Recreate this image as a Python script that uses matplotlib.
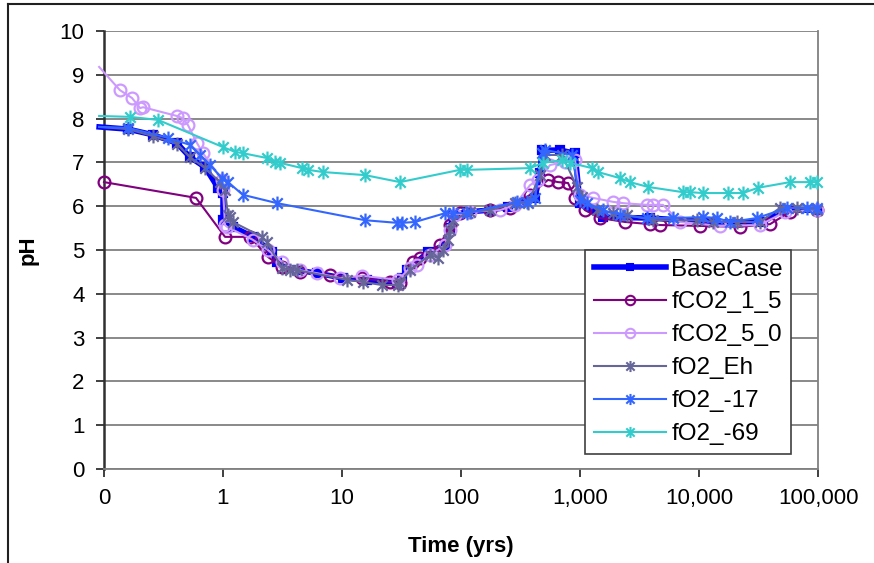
import matplotlib
matplotlib.use("Agg")
import matplotlib.pyplot as plt
from matplotlib.path import Path
from matplotlib.lines import Line2D

plt.rcParams['font.family'] = ['Liberation Sans', 'DejaVu Sans']

# time in years, pH values
base_t = [0.091, 0.159, 0.258, 0.41, 0.528, 0.706, 0.908, 1.0, 1.0, 1.21, 1.79, 2.58, 2.84,
          4.19, 6.17, 10.2, 16.2, 29.0, 31.9, 35.2, 52.8, 73.4, 80.9, 85.7, 112, 175, 248,
          419, 461, 480, 679, 908, 1000, 1560, 3870, 12400, 34500, 50800, 98100]
base_ph = [7.81, 7.76, 7.63, 7.44, 7.12, 6.89, 6.42, 6.30, 5.68, 5.53, 5.30, 4.95, 4.73,
           4.54, 4.47, 4.36, 4.32, 4.25, 4.36, 4.54, 4.95, 5.11, 5.50, 5.80, 5.87, 5.91, 5.98,
           6.19, 6.76, 7.28, 7.28, 7.21, 6.07, 5.75, 5.73, 5.64, 5.64, 5.91, 5.91]

co2_15_t = [0.1, 0.593, 1.04, 1.69, 2.39, 3.13, 4.44, 7.93, 14.7, 25.3, 30.7, 39.5, 45.2,
            66.6, 80.9, 98.1, 175, 258, 380, 538, 653, 793, 908, 1100, 1470, 2390, 3870,
            4700, 10200, 22100, 39500, 58200, 98100]
co2_15_ph = [6.55, 6.19, 5.30, 5.30, 4.84, 4.61, 4.50, 4.43, 4.36, 4.27, 4.25, 4.73, 4.82,
             5.11, 5.57, 5.84, 5.91, 5.96, 6.26, 6.60, 6.55, 6.53, 6.19, 5.91, 5.73, 5.64, 5.59,
             5.57, 5.55, 5.53, 5.59, 5.87, 5.91]

co2_50_t = [0.091, 0.136, 0.172, 0.201, 0.213, 0.41, 0.461, 0.508, 0.605, 0.679, 0.981, 1.0,
            1.04, 1.08, 1.79, 2.39, 3.13, 4.44, 6.17, 9.62, 14.7, 29.6, 37.3, 42.7, 54.9, 73.4,
            80.9, 89.1, 119, 213, 284, 380, 444, 560, 748, 908, 1000, 1285, 1890, 2300, 3660,
            4110, 4980, 6920, 15000, 32600, 52800, 98100]
co2_50_ph = [9.18, 8.65, 8.47, 8.24, 8.26, 8.06, 8.01, 7.85, 7.44, 7.21, 6.60, 6.37,
             5.57, 5.53, 5.23, 5.00, 4.73, 4.54, 4.47, 4.36, 4.41, 4.32, 4.59, 4.66, 4.89, 5.11,
             5.46, 5.80, 5.87, 5.91, 6.03, 6.48, 6.60, 6.94, 7.01, 7.05, 6.26, 6.19, 6.10, 6.07,
             6.03, 6.03, 6.03, 5.64, 5.55, 5.57, 5.87, 5.91]

eh_t = [0.091, 0.159, 0.258, 0.41, 0.528, 0.706, 0.944, 1.04, 1.10, 1.145, 1.21, 2.13, 2.34,
        3.13, 3.66, 4.19, 11.0, 15.0, 21.7, 29.6, 30.7, 37.3, 54.9, 64.1, 70.6, 77.8, 80.9,
        85.7, 119, 175, 284, 366, 461, 508, 706, 944, 1040, 1390, 1890, 2480, 4110, 9620,
        13100, 20900, 32600, 47900, 66600, 98100]
eh_ph = [7.81, 7.76, 7.60, 7.42, 7.12, 6.87, 6.55, 6.37, 5.80, 5.75, 5.64, 5.30, 5.18,
         4.59, 4.54, 4.54, 4.32, 4.27, 4.20, 4.20, 4.25, 4.54, 4.89, 4.82, 5.00, 5.23, 5.46,
         5.68, 5.87, 5.91, 6.07, 6.07, 6.71, 7.17, 7.17, 6.44, 6.21, 5.91, 5.84, 5.80, 5.68, 5.68,
         5.64, 5.64, 5.64, 5.96, 5.96, 5.91]

o17_t = [0.091, 0.159, 0.345, 0.528, 0.641, 0.778, 0.981, 1.10, 1.47, 2.84, 15.6, 29.0, 31.9,
         41.1, 73.4, 85.7, 112, 296, 359, 419, 480, 508, 857, 1000, 1145, 1560, 2170, 3660,
         6050, 10800, 14200, 18200, 30700, 54900, 80900, 98100]
o17_ph = [7.81, 7.79, 7.56, 7.40, 7.17, 6.94, 6.64, 6.55, 6.26, 6.07, 5.68, 5.62, 5.62,
          5.64, 5.84, 5.84, 5.84, 6.10, 6.10, 6.19, 7.21, 7.28, 7.17, 6.14, 6.07, 5.91, 5.80, 5.73,
          5.73, 5.75, 5.73, 5.64, 5.73, 5.96, 5.96, 5.96]

o69_t = [0.091, 0.165, 0.284, 1.0, 1.26, 1.47, 2.34, 2.74, 3.01, 4.61, 5.18, 6.92, 15.6, 30.7,
         98.1, 112, 380, 489, 706, 824, 1260, 1415, 2170, 2630, 3730, 7340, 8410, 10800, 17500,
         23400, 31300, 58200, 85700, 98100]
o69_ph = [8.06, 8.04, 7.97, 7.35, 7.24, 7.21, 7.10, 7.01, 6.99, 6.87, 6.83, 6.78, 6.71, 6.55,
          6.83, 6.83, 6.87, 6.99, 7.05, 6.99, 6.87, 6.78, 6.64, 6.55, 6.44, 6.32, 6.32, 6.30, 6.30,
          6.30, 6.42, 6.55, 6.55, 6.55]

x_ticks = [0.1, 1, 10, 100, 1000, 10000, 100000]
x_labels = ['0', '1', '10', '100', '1,000', '10,000', '100,000']
y_ticks = list(range(0, 11))

# Excel style star: cross plus vertical bar
star = Path([(0, -1), (0, 1), (-0.75, -0.75), (0.75, 0.75), (-0.75, 0.75), (0.75, -0.75)],
            [Path.MOVETO, Path.LINETO] * 3)

series = [
    ('BaseCase', base_t, base_ph, '#0000FF', 4.0, 's', 6, True),
    ('fCO2_1_5', co2_15_t, co2_15_ph, '#800080', 1.5, 'o', 8.5, False),
    ('fCO2_5_0', co2_50_t, co2_50_ph, '#CC99FF', 1.5, 'o', 8.5, False),
    ('fO2_Eh', eh_t, eh_ph, '#666699', 1.5, star, 10, False),
    ('fO2_-17', o17_t, o17_ph, '#3366FF', 1.5, star, 10, False),
    ('fO2_-69', o69_t, o69_ph, '#33CCCC', 1.5, star, 10, False),
]

fig = plt.figure(figsize=(8.74, 5.63), dpi=100)
ax = fig.add_axes([104 / 874, 1 - 469 / 563, (818 - 104) / 874, (469 - 31) / 563])

handles = []
for name, t, ph, col, lw, mk, ms, filled in series:
    # first point left of the axis carries no marker
    start = 1 if t[0] < 0.1 else 0
    fc = col if filled else 'none'
    ax.plot(t, ph, color=col, lw=lw, clip_on=False, zorder=3)
    ax.plot(t[start:], ph[start:], ls='none', marker=mk, ms=ms, mfc=fc, mec=col,
            mew=1.6, clip_on=False, zorder=3)
    handles.append(Line2D([], [], color=col, lw=lw, marker=mk, ms=ms * 0.8, mfc=fc,
                          mec=col, mew=1.5))

ax.set_xscale('log')
ax.set_xlim(0.1, 100000)
ax.set_ylim(0, 10)
ax.set_xticks(x_ticks)
ax.set_xticklabels(x_labels)
ax.minorticks_off()
ax.set_yticks(y_ticks)

ax.grid(axis='y', color='#808080', lw=1.3, zorder=1)
ax.spines['top'].set_visible(False)
ax.spines['left'].set_color('#303030')
ax.spines['left'].set_linewidth(1.8)
ax.spines['bottom'].set_color('#808080')
ax.spines['bottom'].set_linewidth(1.3)
ax.spines['right'].set_color('#808080')
ax.spines['right'].set_linewidth(1.3)
ax.tick_params(axis='both', direction='out', length=6, width=1.3, color='#303030',
               labelsize=16, pad=8)

ax.set_xlabel('Time (yrs)', fontsize=16, fontweight='bold', labelpad=19)
ax.set_ylabel('pH', fontsize=16, fontweight='bold', labelpad=15)

leg = ax.legend(handles, [s[0] for s in series], loc='upper left',
                bbox_to_anchor=(585 / 874, 1 - 250 / 563), bbox_transform=fig.transFigure,
                fontsize=17.5, frameon=True, fancybox=False, framealpha=1, edgecolor='#404040',
                borderpad=0.35, labelspacing=0.45, handlelength=3.0, handletextpad=0.2,
                borderaxespad=0)
leg.get_frame().set_linewidth(1.2)
leg.set_zorder(5)

# outer chart frame
fig.add_artist(Line2D([8 / 874, 8 / 874], [0, 1 - 4 / 563], color='#202020', lw=1.5))
fig.add_artist(Line2D([8 / 874, 1], [1 - 4 / 563, 1 - 4 / 563], color='#202020', lw=1.5))

fig.savefig('out.png', dpi=100)
